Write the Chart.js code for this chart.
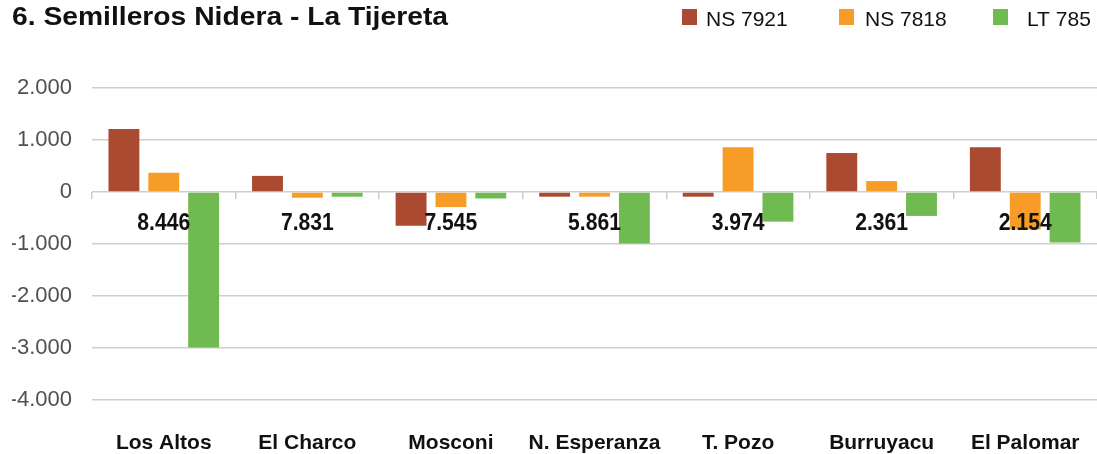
<!DOCTYPE html>
<html>
<head>
<meta charset="utf-8">
<script src="https://cdn.jsdelivr.net/npm/chart.js@4.4.1/dist/chart.umd.min.js"></script>
<style>
  html, body { margin: 0; padding: 0; background: #ffffff; }
  #wrap { width: 1097px; height: 454px; position: relative; }
</style>
</head>
<body>
<div id="wrap"><canvas id="c" width="1097" height="454"></canvas></div>
<script>
const titleText = '6. Semilleros Nidera - La Tijereta';
const categories = ['Los Altos', 'El Charco', 'Mosconi', 'N. Esperanza', 'T. Pozo', 'Burruyacu', 'El Palomar'];
const seriesNames = ['NS 7921', 'NS 7818', 'LT 785'];
const ns7921 = [1210, 310, -650, -90, -90, 750, 860];
const ns7818 = [370, -110, -290, -90, 860, 210, -720];
const lt785 = [-2990, -90, -125, -990, -570, -460, -970];
const totals = [8446, 7831, 7545, 5861, 3974, 2361, 2154];
const yTicks = [-4000, -3000, -2000, -1000, 0, 1000, 2000];
const colors = ['#AA4A30', '#F79D27', '#6FBA51'];

function fmt(v) {
  if (v === 0) return '0';
  const s = Math.abs(Math.round(v)).toString().replace(/\B(?=(\d{3})+(?!\d))/g, '.');
  return (v < 0 ? '-' : '') + s;
}

const legendBoxX = [682, 839, 993];
const legendTextX = [706, 865, 1027];

const titlePlugin = {
  id: 'titleLegend',
  afterDraw(chart) {
    const ctx = chart.ctx;
    ctx.save();
    ctx.fillStyle = '#111111';
    ctx.font = 'bold 25px "Liberation Sans", Arial, sans-serif';
    ctx.textBaseline = 'alphabetic';
    ctx.textAlign = 'left';
    const w = ctx.measureText(titleText).width;
    ctx.save();
    ctx.translate(12, 25);
    ctx.scale(436 / w, 1);
    ctx.fillText(titleText, 0, 0);
    ctx.restore();
    // legend
    ctx.font = '21px "Liberation Sans", Arial, sans-serif';
    chart.data.datasets.forEach((ds, i) => {
      ctx.fillStyle = ds.backgroundColor;
      ctx.fillRect(legendBoxX[i], 9, 15, 16);
      ctx.fillStyle = '#111111';
      ctx.fillText(ds.label, legendTextX[i], 26);
    });
    ctx.restore();
  }
};

const totalsPlugin = {
  id: 'totals',
  afterDatasetsDraw(chart) {
    const ctx = chart.ctx;
    const xs = chart.scales.x, ys = chart.scales.y;
    const y0 = ys.getPixelForValue(0) + 31;
    ctx.save();
    ctx.fillStyle = '#111111';
    ctx.font = 'bold 24px "Liberation Sans", Arial, sans-serif';
    ctx.textAlign = 'center';
    ctx.textBaseline = 'middle';
    totals.forEach((t, i) => {
      const cx = xs.getPixelForValue(i);
      ctx.save();
      ctx.translate(cx, y0);
      ctx.scale(0.88, 1);
      ctx.fillText(fmt(t), 0, 0);
      ctx.restore();
    });
    ctx.restore();
  }
};

new Chart(document.getElementById('c'), {
  type: 'bar',
  data: {
    labels: categories,
    datasets: [
      { label: seriesNames[0], data: ns7921, backgroundColor: colors[0] },
      { label: seriesNames[1], data: ns7818, backgroundColor: colors[1] },
      { label: seriesNames[2], data: lt785, backgroundColor: colors[2] }
    ]
  },
  options: {
    responsive: false,
    animation: false,
    devicePixelRatio: 1,
    datasets: { bar: { categoryPercentage: 0.833, barPercentage: 0.775 } },
    layout: { padding: { top: 88, left: 12, right: -3, bottom: 1 } },
    plugins: { legend: { display: false }, title: { display: false }, tooltip: { enabled: false } },
    scales: {
      x: {
        afterFit(scale) { scale.height = 53; scale.paddingLeft = 0; scale.paddingRight = 0; },
        grid: { display: false, drawTicks: false },
        border: { display: false },
        ticks: { color: '#111111', font: { family: '"Liberation Sans", Arial, sans-serif', size: 21, weight: 'bold' }, padding: 31, maxRotation: 0, autoSkip: false }
      },
      x2: {
        type: 'category',
        position: { y: 0 },
        offset: true,
        afterFit(scale) { scale.height = 0; scale.paddingLeft = 0; scale.paddingRight = 0; },
        grid: { display: true, drawOnChartArea: false, drawTicks: true, tickLength: 7, color: '#cccccc', lineWidth: 1.5, offset: true },
        border: { display: false },
        ticks: { display: false }
      },
      y: {
        min: -4000, max: 2000,
        afterBuildTicks(scale) { scale.ticks = yTicks.map(v => ({ value: v })); },
        afterFit(scale) { scale.width = 80; },
        grid: { color: '#cfcfcf', lineWidth: 1.5, drawTicks: false },
        border: { display: false },
        ticks: { color: '#505050', padding: 20, font: { family: '"Liberation Sans", Arial, sans-serif', size: 22 }, callback: (v) => fmt(v) }
      }
    }
  },
  plugins: [titlePlugin, totalsPlugin]
});
</script>
</body>
</html>
